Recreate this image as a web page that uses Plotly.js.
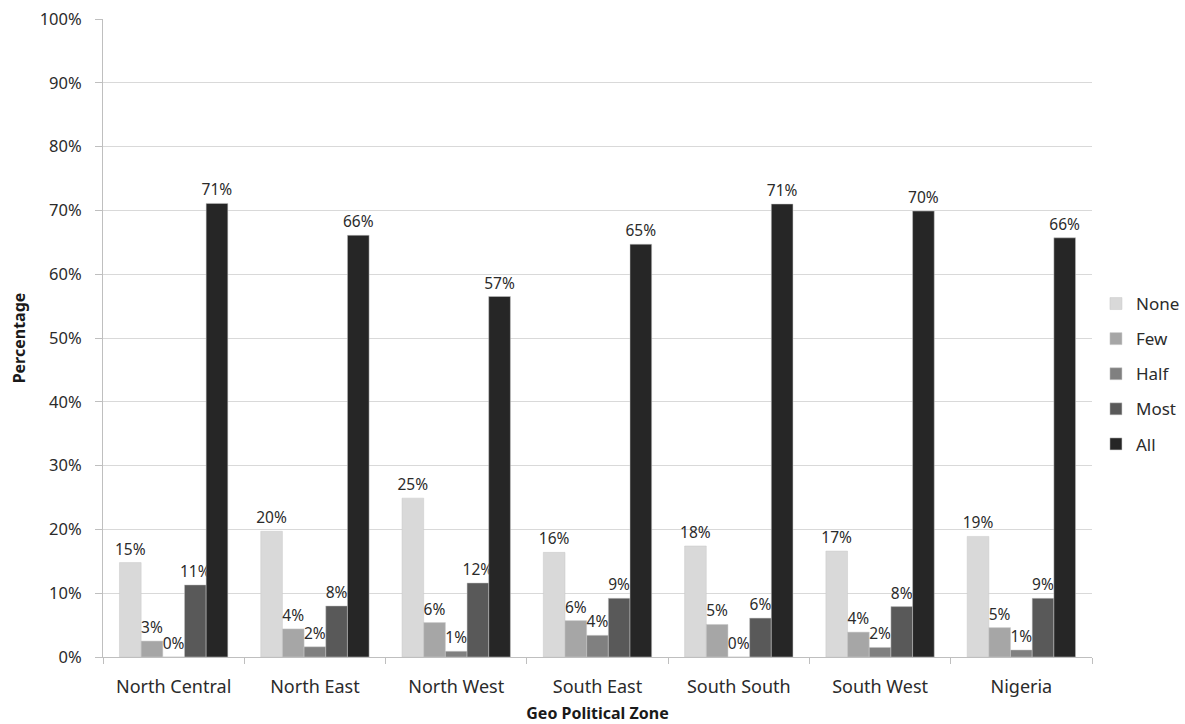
<!DOCTYPE html>
<html>
<head>
<meta charset="utf-8">
<script src="https://cdn.plot.ly/plotly-3.0.1.min.js"></script>
<style>html,body{margin:0;padding:0;background:#fff;}#chart{width:1185px;height:724px;}</style>
</head>
<body>
<div id="chart"></div>
<script>
const zones = ["North Central", "North East", "North West", "South East", "South South", "South West", "Nigeria"];
const seriesNames = ["None", "Few", "Half", "Most", "All"];
const noneVals = [0.148, 0.197, 0.249, 0.164, 0.174, 0.166, 0.189];
const fewVals  = [0.025, 0.044, 0.054, 0.057, 0.051, 0.039, 0.046];
const halfVals = [0.000, 0.016, 0.009, 0.034, 0.000, 0.015, 0.011];
const mostVals = [0.113, 0.080, 0.116, 0.092, 0.061, 0.079, 0.092];
const allVals  = [0.711, 0.661, 0.565, 0.647, 0.710, 0.699, 0.657];
const noneLabels = ["15%", "20%", "25%", "16%", "18%", "17%", "19%"];
const fewLabels  = ["3%", "4%", "6%", "6%", "5%", "4%", "5%"];
const halfLabels = ["0%", "2%", "1%", "4%", "0%", "2%", "1%"];
const mostLabels = ["11%", "8%", "12%", "9%", "6%", "8%", "9%"];
const allLabels  = ["71%", "66%", "57%", "65%", "71%", "70%", "66%"];
const colors = ["#d9d9d9", "#a6a6a6", "#808080", "#595959", "#262626"];

const values = [noneVals, fewVals, halfVals, mostVals, allVals];
const labels = [noneLabels, fewLabels, halfLabels, mostLabels, allLabels];
const FONT = "Noto Sans, Open Sans, sans-serif";
const TXT = "#2b2b2b";

const traces = seriesNames.map((name, i) => ({
  type: "bar",
  name: name,
  x: zones,
  y: values[i],
  text: labels[i],
  textposition: "outside",
  constraintext: "none",
  cliponaxis: false,
  textfont: {family: FONT, size: 15.5, color: TXT},
  marker: {color: colors[i], line: {color: "#c8c8c8", width: 0.5}},
  legendgroup: name,
  hoverinfo: "none"
}));

const layout = {
  width: 1185,
  height: 724,
  margin: {l: 103, r: 93, t: 19, b: 67, autoexpand: false},
  paper_bgcolor: "#ffffff",
  plot_bgcolor: "#ffffff",
  barmode: "group",
  bargap: 0.233,
  bargroupgap: 0,
  font: {family: FONT, size: 16, color: TXT},
  xaxis: {
    type: "category",
    tickson: "boundaries",
    ticks: "outside",
    ticklen: 6,
    tickcolor: "#bfbfbf",
    showline: true,
    linecolor: "#bfbfbf",
    linewidth: 1,
    showgrid: false,
    automargin: false,
    ticklabelstandoff: 13,
    tickfont: {family: FONT, size: 18, color: TXT},
    title: {text: "<b>Geo Political Zone</b>", font: {family: FONT, size: 16, color: "#1a1a1a"}, standoff: 12}
  },
  yaxis: {
    range: [0, 1],
    dtick: 0.1,
    tickformat: ".0%",
    ticks: "outside",
    ticklen: 7,
    tickcolor: "#bfbfbf",
    showline: true,
    linecolor: "#bfbfbf",
    linewidth: 1,
    showgrid: true,
    gridcolor: "#d9d9d9",
    gridwidth: 1,
    zeroline: false,
    automargin: false,
    ticklabelstandoff: 10,
    tickfont: {family: FONT, size: 16.5, color: TXT},
    title: {text: "<b>Percentage</b>", font: {family: FONT, size: 16, color: "#1a1a1a"}, standoff: 10}
  },
  legend: {
    x: 1.004,
    xanchor: "left",
    y: 0.4436,
    yanchor: "middle",
    font: {family: FONT, size: 17, color: TXT},
    tracegroupgap: 10,
    itemwidth: 30,
    bgcolor: "rgba(0,0,0,0)"
  },
  showlegend: true
};

Plotly.newPlot("chart", traces, layout, {displayModeBar: false, staticPlot: true});
</script>
</body>
</html>
